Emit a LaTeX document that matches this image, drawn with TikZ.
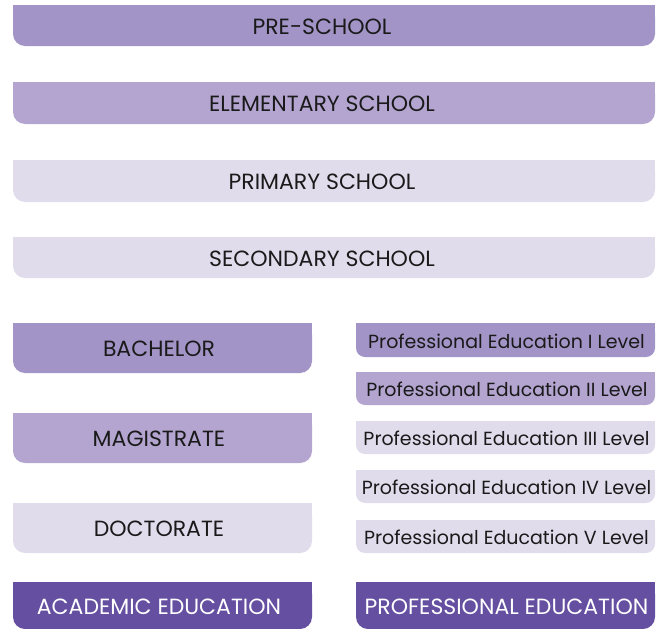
\documentclass[tikz,border=0pt]{standalone}
\usepackage{fontspec}
\setmainfont{Poppins}
\definecolor{lvA}{HTML}{A294C6}
\definecolor{lvB}{HTML}{B3A5D0}
\definecolor{lvC}{HTML}{E0DCEC}
\definecolor{lvD}{HTML}{654FA0}
\definecolor{ink}{HTML}{1A1A1A}
% box with square top corners and rounded bottom corners
% #1 name, #2 left, #3 top, #4 right, #5 bottom, #6 radius, #7 colour
\newcommand\edubox[7]{%
  \fill[#7, rounded corners=#6pt] (#2,#3) rectangle (#4,#5);
  \fill[#7] (#2,#3) rectangle (#4,{(#3+#5)/2});
  \node[inner sep=0pt, minimum width={#4-#2}, minimum height={#5-#3}] (#1) at ({(#2+#4)/2},{(#3+#5)/2}) {};
}
\tikzset{
  bigtxt/.style={font=\fontsize{22}{22}\selectfont, text=ink, inner sep=0pt},
  smalltxt/.style={font=\fontsize{19}{19}\selectfont, text=ink, inner sep=0pt},
  headtxt/.style={font=\fontsize{22}{22}\selectfont, text=white, inner sep=0pt},
}
\begin{document}
\begin{tikzpicture}[x=1pt, y=-1pt]
\useasboundingbox (0,0) rectangle (659,629);
% general school levels
\edubox{pre}{13}{5}{655}{46}{12}{lvA}
\edubox{elem}{13}{82}{655}{124}{12}{lvB}
\edubox{prim}{13}{160}{655}{202}{12}{lvC}
\edubox{sec}{13}{237}{655}{278}{12}{lvC}
\node[bigtxt] at (322,27) {PRE-SCHOOL};
\node[bigtxt] at (322,104) {ELEMENTARY SCHOOL};
\node[bigtxt] at (322,182) {PRIMARY SCHOOL};
\node[bigtxt] at (322,259) {SECONDARY SCHOOL};
% academic branch
\edubox{bach}{13}{323}{312}{373}{12}{lvA}
\edubox{mag}{13}{413}{312}{463}{12}{lvB}
\edubox{doc}{13}{503}{312}{553}{12}{lvC}
\edubox{acad}{13}{582}{312}{629}{12}{lvD}
\node[bigtxt] at (159,349) {BACHELOR};
\node[bigtxt] at (159,439) {MAGISTRATE};
\node[bigtxt] at (159,529) {DOCTORATE};
\node[headtxt] at (159,607) {ACADEMIC EDUCATION};
% professional branch
\edubox{pI}{356}{323}{655}{357}{9}{lvA}
\edubox{pII}{356}{372}{655}{405}{9}{lvB}
\edubox{pIII}{356}{421}{655}{454}{9}{lvC}
\edubox{pIV}{356}{470}{655}{503}{9}{lvC}
\edubox{pV}{356}{520}{655}{553}{9}{lvC}
\edubox{prof}{356}{582}{655}{629}{12}{lvD}
\node[smalltxt] at (506.5,341) {Professional Education I Level};
\node[smalltxt] at (507,389) {Professional Education II Level};
\node[smalltxt] at (506.5,438) {Professional Education III Level};
\node[smalltxt] at (506.5,487) {Professional Education IV Level};
\node[smalltxt] at (506.5,537) {Professional Education V Level};
\node[headtxt] at (506.5,607) {PROFESSIONAL EDUCATION};
\end{tikzpicture}
\end{document}
